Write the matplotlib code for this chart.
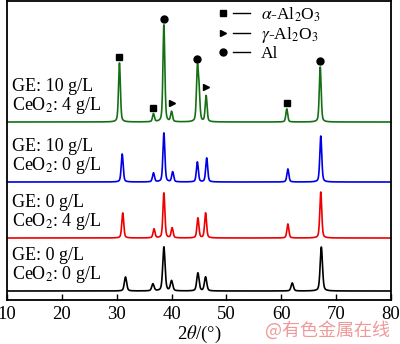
import numpy as np
import matplotlib
matplotlib.use('Agg')
import matplotlib.pyplot as plt
from matplotlib.lines import Line2D
from matplotlib.legend_handler import HandlerTuple

plt.rcParams['font.family'] = ['Liberation Serif', 'DejaVu Serif']
plt.rcParams['mathtext.fontset'] = 'stix'

# peak tables (2theta, intensity a.u.) for each sample
ge10_ce4_pos = [30.5, 36.7, 38.6, 40.0, 44.7, 45.0, 46.3, 61.0, 67.1]
ge10_ce4_int = [59, 8, 97, 10, 50, 28, 26, 13, 55]

ge10_ce0_pos = [31.0, 36.7, 38.6, 40.2, 44.7, 46.4, 61.2, 67.2]
ge10_ce0_int = [28, 9, 49, 10, 20, 24, 13, 46]

ge0_ce4_pos = [31.1, 36.8, 38.6, 40.1, 44.8, 46.2, 61.2, 67.2]
ge0_ce4_int = [25, 9, 45, 10, 20, 25, 14, 46]

ge0_ce0_pos = [31.6, 36.6, 38.6, 40.0, 44.8, 46.2, 62.0, 67.3]
ge0_ce0_int = [14, 7, 44, 10, 18, 14, 8, 44]

labels = ['GE: 10 g/L\nCeO$_2$: 4 g/L', 'GE: 10 g/L\nCeO$_2$: 0 g/L',
          'GE: 0 g/L\nCeO$_2$: 4 g/L', 'GE: 0 g/L\nCeO$_2$: 0 g/L']

# phase marks on the top pattern
alpha_pos = [30.5, 36.7, 61.0]
gamma_pos = [40.0, 46.3]
al_pos = [38.6, 44.7, 67.1]


def pattern(x, pos, inten, fwhm):
    y = np.zeros_like(x)
    for c, h in zip(pos, inten):
        d = (x - c) / (fwhm / 2)
        y += h * (0.4 / (1 + d ** 2) + 0.6 * np.exp(-np.log(2) * d ** 2))
    return y


x = np.linspace(10, 80, 4000)
series = [
    (ge10_ce4_pos, ge10_ce4_int, '#157015', 178, 0.4),
    (ge10_ce0_pos, ge10_ce0_int, '#0000e6', 118, 0.42),
    (ge0_ce4_pos, ge0_ce4_int, '#ee0000', 62, 0.42),
    (ge0_ce0_pos, ge0_ce0_int, '#000000', 9, 0.5),
]

fig = plt.figure(figsize=(4.0, 3.44), dpi=100)
ax = fig.add_axes([7 / 400, 44 / 344, 384 / 400, 299 / 344])

for (pos, inten, col, off, w), lab in zip(series, labels):
    ax.plot(x, off + pattern(x, pos, inten, w), color=col, lw=1.2)
    ax.text(11.0, off + 25, lab, fontsize=13, va='center', ha='left',
            linespacing=1.0)

top_pos, top_int, _, top_off, top_w = series[0]
top_y = top_off + pattern(np.array(top_pos, float), top_pos, top_int, top_w)
peak_h = dict(zip(top_pos, top_y))
ax.plot(alpha_pos, [peak_h[p] + 6 for p in alpha_pos], 's', color='k', ms=5, ls='none')
ax.plot(gamma_pos, [peak_h[p] + 8 for p in gamma_pos], '>', color='k', ms=5, ls='none')
ax.plot(al_pos, [peak_h[p] + 6 for p in al_pos], 'o', color='k', ms=5, ls='none')

# legend: marker followed by a short dash
dash = Line2D([], [], color='k', lw=1.0)
h_a = (Line2D([], [], marker='s', color='k', ms=5, ls='none'), dash)
h_g = (Line2D([], [], marker='>', color='k', ms=5, ls='none'), dash)
h_l = (Line2D([], [], marker='o', color='k', ms=5, ls='none'), dash)
ax.legend([h_a, h_g, h_l], [r'$\alpha$-Al$_2$O$_3$', r'$\gamma$-Al$_2$O$_3$', 'Al'],
          handler_map={tuple: HandlerTuple(ndivide=None, pad=0.1)},
          loc='upper left', bbox_to_anchor=(0.524, 1.008), frameon=False,
          fontsize=12.5, handlelength=2.0, handletextpad=0.63, labelspacing=0.05,
          borderaxespad=0)

ax.set_xlim(10, 80)
ax.set_ylim(0, 299)
ax.set_xticks([10, 20, 30, 40, 50, 60, 70, 80])
ax.set_yticks([])
ax.tick_params(axis='x', direction='in', length=4, width=1, labelsize=13.5, pad=4)
for s in ax.spines.values():
    s.set_linewidth(1.3)
ax.set_xlabel(r'2$\it{\theta}$/(°)', fontsize=13.5, labelpad=1)

fig.text(0.975, 0.04, '@有色金属在线', fontsize=13, color='#ee9a9a',
         ha='right', va='center', family=['Noto Sans CJK SC', 'DejaVu Sans'])

fig.savefig('out.png', dpi=100)
